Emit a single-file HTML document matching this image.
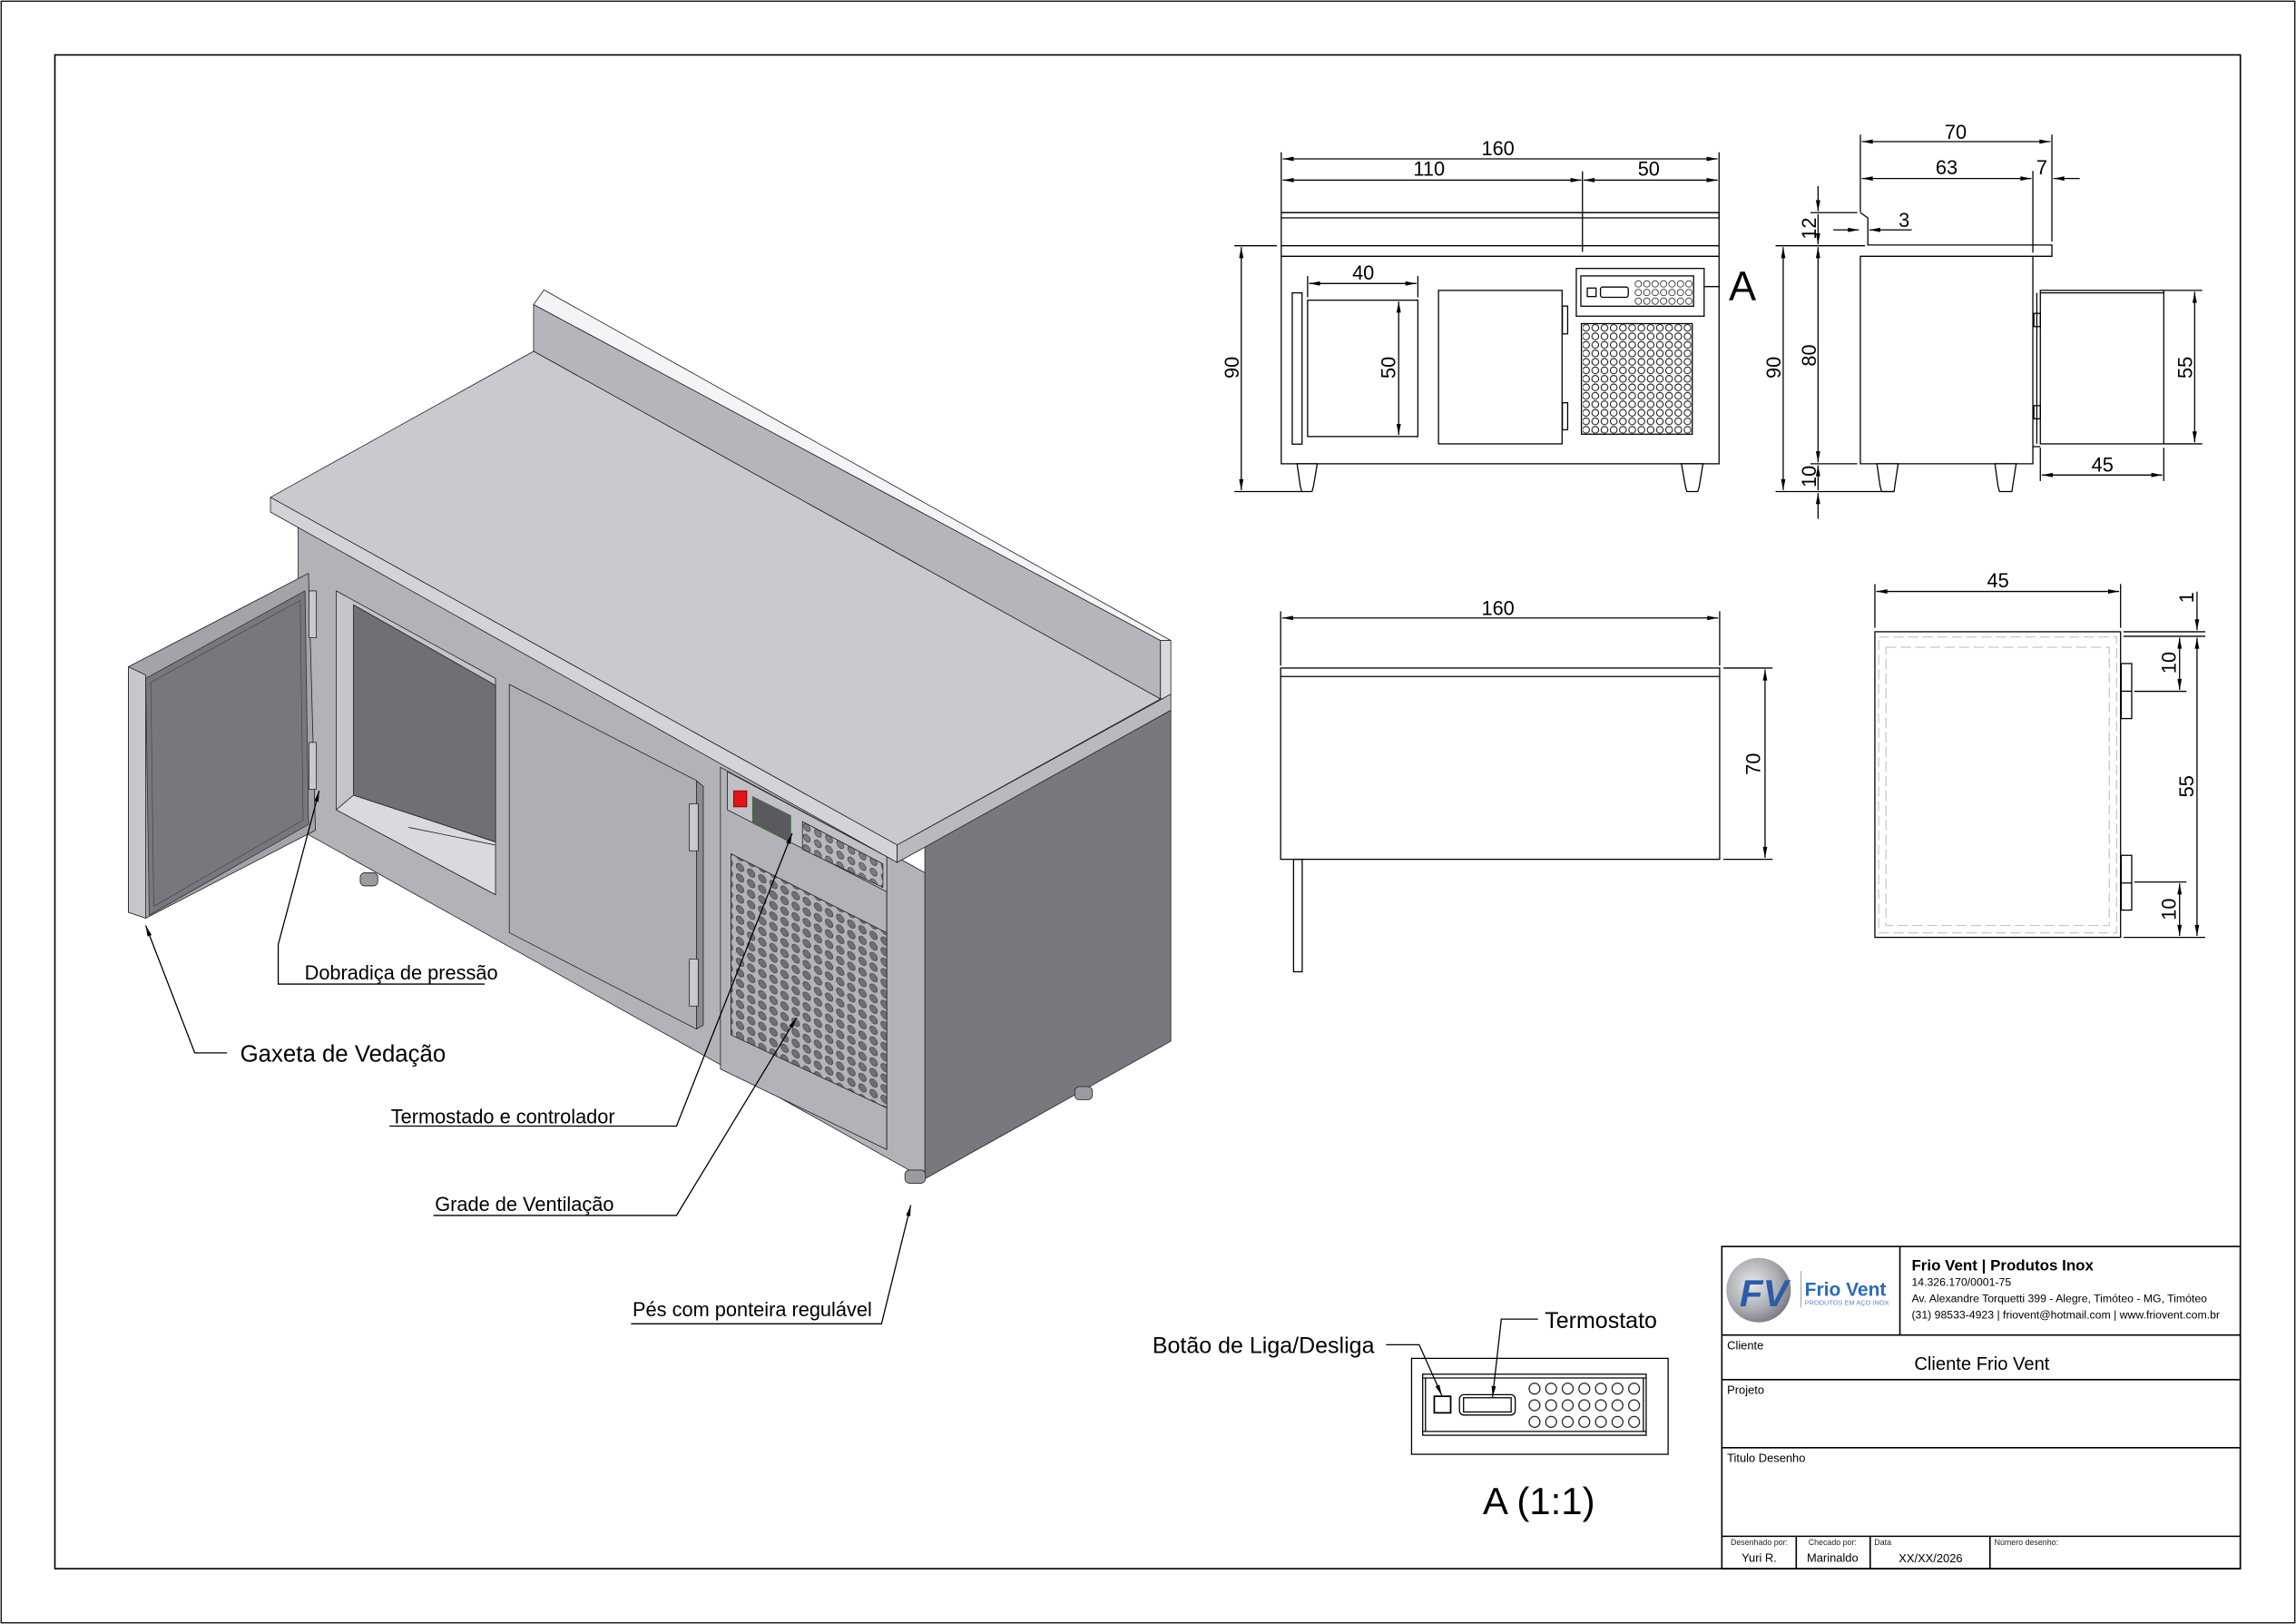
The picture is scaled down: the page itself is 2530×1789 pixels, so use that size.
<!DOCTYPE html>
<html><head><meta charset="utf-8"><style>
html,body{margin:0;padding:0;background:#fff}
svg{display:block}
text{font-family:"Liberation Sans",Arial,sans-serif}
</style></head><body>
<svg width="2530" height="1789" viewBox="0 0 1568 1109" preserveAspectRatio="none" xmlns="http://www.w3.org/2000/svg">
<defs>
<marker id="a" viewBox="0 0 10 4" refX="10" refY="2" markerWidth="8" markerHeight="3" orient="auto-start-reverse" markerUnits="userSpaceOnUse"><path d="M0,0L10,2L0,4z" fill="#000"/></marker>
<pattern id="g1" x="1080" y="221" width="6.3" height="5.8" patternUnits="userSpaceOnUse"><circle cx="3.15" cy="2.9" r="2.3" fill="none" stroke="#000" stroke-width="0.6"/></pattern>
<pattern id="g2" x="1116" y="190.9" width="5.75" height="5.9" patternUnits="userSpaceOnUse"><circle cx="2.875" cy="2.95" r="2.2" fill="none" stroke="#000" stroke-width="0.45"/></pattern>
<pattern id="g3" x="1042.3" y="942.6" width="11.33" height="11.35" patternUnits="userSpaceOnUse"><circle cx="5.67" cy="5.67" r="3.7" fill="none" stroke="#000" stroke-width="0.7"/></pattern>
<pattern id="gi" x="0" y="0" width="7.6" height="7.2" patternUnits="userSpaceOnUse" patternTransform="skewY(27)"><rect width="7.6" height="7.2" fill="#b3b3ba"/><circle cx="3.8" cy="3.6" r="2.6" fill="#6f6f76" stroke="#3a3a3e" stroke-width="0.4"/></pattern>
<pattern id="gs" x="0" y="0" width="7.6" height="7.2" patternUnits="userSpaceOnUse" patternTransform="skewY(27)"><rect width="7.6" height="7.2" fill="#b8b8be"/><circle cx="3.8" cy="3.6" r="2.4" fill="#7a7a80" stroke="#3a3a3e" stroke-width="0.4"/></pattern>
<radialGradient id="lg" cx="0.4" cy="0.4" r="0.7"><stop offset="0" stop-color="#e8e8ea"/><stop offset="0.6" stop-color="#a9abb0"/><stop offset="1" stop-color="#6d6f74"/></radialGradient>
</defs>

<rect x="0.8" y="0.8" width="1566.4" height="1107.4" fill="none" stroke="#000" stroke-width="0.8"/>
<rect x="37.5" y="37.5" width="1492.5" height="1033.7" fill="none" stroke="#000" stroke-width="1"/>

<g stroke="#222" stroke-width="0.5" stroke-linejoin="round">
<polygon points="364.4,208 371.5,198 799.6,437.4 792.5,437.4" fill="#f4f4f6"/>
<polygon points="364.4,208 792.5,437.4 792.5,477.3 364.4,239.9" fill="#b5b5bc"/>
<polygon points="792.5,437.4 799.6,437.4 799.6,476 792.5,477.3" fill="#d8d8dc"/>
<polygon points="631.6,578 799.6,485 799.6,711 631.6,805" fill="#79787e"/>
<polygon points="203.6,357 631.6,596 631.6,805 203.6,566" fill="#b2b2b9"/>
<polygon points="184.7,339.6 364.4,239.9 792.5,477.3 612.7,577" fill="#c9c9d0"/>
<polygon points="184.7,339.6 612.7,577 612.7,589 184.7,349.6" fill="#d3d3d9"/>
<polygon points="612.7,577 799.6,474 799.6,485 612.7,589" fill="#b9b9c0"/>
<polygon points="229.6,403.5 338.4,463.3 338.4,611 229.6,553" fill="#c4c4ca"/>
<polygon points="241.4,413 338.4,468 338.4,575 241.4,543" fill="#6f6f76"/>
<polygon points="229.6,553 241.4,543 338.4,575 338.4,611" fill="#d9d9de"/>
<line x1="279" y1="565" x2="338" y2="577"/>
<polygon points="347.8,467.3 475.6,533 475.6,702.7 347.8,636.9" fill="#aeaeb5"/>
<polygon points="475.6,533 480.3,537 480.3,700 475.6,702.7" fill="#8b8b92"/>
<rect x="470.8" y="549" width="6" height="32" fill="#c9c9ce"/>
<rect x="470.8" y="655" width="6" height="32" fill="#c9c9ce"/>
<polygon points="492,524 605.6,585 605.6,785 492,730" fill="#b2b2b9"/>
<line x1="605.6" y1="585" x2="605.6" y2="785"/>
<polygon points="496.8,527 605.6,585 605.6,609 496.8,553" fill="#c0c0c6"/>
<polygon points="548,561 603,590 603,606 548,580" fill="url(#gs)"/>
<rect x="501" y="540" width="9" height="11" fill="#e01515" stroke="#700"/>
<polygon points="514,544 540,557 540,575 514,562" fill="#5a5a5e" stroke="#2f6e2f"/>
<polygon points="499.2,583 605.6,637 605.6,756.6 499.2,706.7" fill="url(#gi)"/>
<rect x="246" y="596" width="12" height="9" rx="3" fill="#9a9aa0"/>
<rect x="618" y="799" width="14" height="9" rx="3" fill="#9a9aa0"/>
<rect x="734" y="742" width="12" height="9" rx="3" fill="#9a9aa0"/>
<polygon points="87.7,455.3 210.7,391.5 215.4,567 99.5,627 87.7,623" fill="#a3a3aa"/>
<polygon points="87.7,455.3 99.5,461 99.5,627 87.7,623" fill="#c6c6cc"/>
<polygon points="99.5,463.3 208.3,403.5 210.7,563 101.9,625" fill="#77777e" stroke="#333"/>
<polygon points="103,466 205,410 207,560 105,619" fill="none" stroke="#444" stroke-width="0.4"/>
<rect x="211" y="403.5" width="5" height="32" fill="#c9c9ce"/>
<rect x="211" y="507" width="5" height="32" fill="#c9c9ce"/>
</g>

<g stroke="#000" stroke-width="0.8" fill="none">
<polyline points="155,719 133,719 99.5,632" marker-end="url(#a)"/>
<polyline points="331,672 190,672 190,645 218,540" marker-end="url(#a)"/>
<polyline points="266,769 462,769 541,569" marker-end="url(#a)"/>
<polyline points="296,830 462,830 544,695" marker-end="url(#a)"/>
<polyline points="431,904 602,904 622,823" marker-end="url(#a)"/>
</g>
<g font-size="13.5" fill="#000">
<text x="164" y="725" font-size="16">Gaxeta de Vedação</text>
<text x="208" y="669">Dobradiça de pressão</text>
<text x="267" y="767">Termostado e controlador</text>
<text x="297" y="827">Grade de Ventilação</text>
<text x="432" y="899">Pés com ponteira regulável</text>
</g>

<g stroke="#000" stroke-width="0.8" fill="none">
<line x1="875" y1="104" x2="875" y2="145"/><line x1="1174" y1="104" x2="1174" y2="150"/>
<line x1="876" y1="108.5" x2="1173" y2="108.5" marker-start="url(#a)" marker-end="url(#a)"/>
<line x1="876" y1="123" x2="1080" y2="123" marker-start="url(#a)" marker-end="url(#a)"/>
<line x1="1081.5" y1="123" x2="1173" y2="123" marker-start="url(#a)" marker-end="url(#a)"/>
<line x1="1080.7" y1="117" x2="1080.7" y2="172"/>
<line x1="875" y1="145.2" x2="1174" y2="145.2"/><line x1="875" y1="148.8" x2="1174" y2="148.8"/>
<line x1="875" y1="167.8" x2="1174" y2="167.8"/><line x1="875" y1="175" x2="1174" y2="175"/>
<rect x="875" y="145.2" width="299" height="171.5"/>
<line x1="843" y1="167.8" x2="872" y2="167.8"/><line x1="843" y1="335.7" x2="890" y2="335.7"/>
<line x1="847.7" y1="168.8" x2="847.7" y2="334.7" marker-start="url(#a)" marker-end="url(#a)"/>
<polygon points="885.8,316.7 899.6,316.7 897,332 896,335.7 889,335.7 888,332"/>
<polygon points="1148.3,316.7 1163,316.7 1160.5,332 1159.5,335.7 1152,335.7 1151,332"/>
<rect x="882.5" y="200" width="6.7" height="103.3"/>
<rect x="893" y="205" width="75.3" height="93.1"/>
<line x1="893" y1="188.4" x2="893" y2="203"/><line x1="968.3" y1="188.4" x2="968.3" y2="203"/>
<line x1="894" y1="193.6" x2="967.3" y2="193.6" marker-start="url(#a)" marker-end="url(#a)"/>
<line x1="955.2" y1="206" x2="955.2" y2="297" marker-start="url(#a)" marker-end="url(#a)"/>
<rect x="982.4" y="198.3" width="84.4" height="104.8"/>
<rect x="1067" y="209" width="3.6" height="19"/><rect x="1067" y="275" width="3.6" height="18.5"/>
<rect x="1076.5" y="183.3" width="87.3" height="32.6"/>
<rect x="1079.6" y="188.4" width="77" height="20.7"/>
<rect x="1084" y="196.7" width="6" height="5.8"/>
<rect x="1093" y="196" width="19" height="7" rx="1.5"/>
<line x1="1163.8" y1="195.7" x2="1174.5" y2="195.7"/>
<rect x="1080" y="221" width="75.7" height="75.5"/>
</g>
<rect x="1116" y="190.9" width="40.2" height="17.7" fill="url(#g2)"/>
<rect x="1081" y="221.5" width="74" height="74.5" fill="url(#g1)"/>
<g font-size="13.5" fill="#000" text-anchor="middle">
<text x="1023" y="106">160</text>
<text x="976" y="120">110</text>
<text x="1126" y="120">50</text>
<text x="931" y="191">40</text>
<text x="1190" y="205" font-size="28">A</text>
<text transform="translate(846,251) rotate(-90)">90</text>
<text transform="translate(953,251) rotate(-90)">50</text>
</g>

<g stroke="#000" stroke-width="0.8" fill="none">
<line x1="1270.5" y1="91.9" x2="1270.5" y2="145"/>
<line x1="1401.3" y1="91.9" x2="1401.3" y2="165"/>
<line x1="1271.5" y1="96.7" x2="1400.3" y2="96.7" marker-start="url(#a)" marker-end="url(#a)"/>
<line x1="1271.5" y1="121.9" x2="1387.3" y2="121.9" marker-start="url(#a)" marker-end="url(#a)"/>
<line x1="1388.3" y1="116.7" x2="1388.3" y2="172.5"/>
<line x1="1420.3" y1="121.9" x2="1402.3" y2="121.9" marker-end="url(#a)"/>
<polyline points="1270.5,145.2 1275.6,148.8 1275.6,167.3 1401.3,167.3 1401.3,175 1270.5,175 1270.5,316.7 1388.3,316.7 1388.3,175"/>
<polygon points="1281.8,316.7 1296.3,316.7 1294,332 1293.5,335.7 1285,335.7 1284,332"/>
<polygon points="1362.4,316.7 1376.9,316.7 1374.5,332 1374,335.7 1365.5,335.7 1364.5,332"/>
<rect x="1393.4" y="198.3" width="84.3" height="104.8"/>
<line x1="1393.4" y1="200" x2="1477.7" y2="200"/>
<line x1="1388.3" y1="305" x2="1393.4" y2="305"/>
<line x1="1391" y1="200" x2="1391" y2="303"/>
<rect x="1389" y="214" width="4.4" height="9"/><rect x="1389" y="277" width="4.4" height="9"/>
<line x1="1477.7" y1="198.3" x2="1504" y2="198.3"/><line x1="1477.7" y1="303.1" x2="1504" y2="303.1"/>
<line x1="1498.8" y1="199.3" x2="1498.8" y2="302.1" marker-start="url(#a)" marker-end="url(#a)"/>
<line x1="1393.4" y1="305.8" x2="1393.4" y2="328.5"/><line x1="1477.7" y1="305.8" x2="1477.7" y2="328.5"/>
<line x1="1394.4" y1="324.4" x2="1476.7" y2="324.4" marker-start="url(#a)" marker-end="url(#a)"/>
<line x1="1236.4" y1="145.2" x2="1268.4" y2="145.2"/>
<line x1="1212.6" y1="167.8" x2="1273.6" y2="167.8"/>
<line x1="1236.4" y1="316.7" x2="1268.4" y2="316.7"/>
<line x1="1212.6" y1="335.7" x2="1293" y2="335.7"/>
<line x1="1241.6" y1="127" x2="1241.6" y2="144.2" marker-end="url(#a)"/>
<line x1="1241.6" y1="146.2" x2="1241.6" y2="166.8" marker-end="url(#a)"/>
<line x1="1241.6" y1="168.8" x2="1241.6" y2="315.7" marker-start="url(#a)" marker-end="url(#a)"/>
<line x1="1241.6" y1="317.7" x2="1241.6" y2="334.7" marker-start="url(#a)"/>
<line x1="1241.6" y1="336.7" x2="1241.6" y2="354.3" marker-start="url(#a)"/>
<line x1="1217.8" y1="168.8" x2="1217.8" y2="334.7" marker-start="url(#a)" marker-end="url(#a)"/>
<line x1="1252" y1="157" x2="1269.5" y2="157" marker-end="url(#a)"/>
<line x1="1305.6" y1="157" x2="1276.6" y2="157" marker-end="url(#a)"/>
</g>
<g font-size="13.5" fill="#000" text-anchor="middle">
<text x="1335.6" y="95">70</text>
<text x="1329.4" y="119">63</text>
<text x="1394.4" y="119">7</text>
<text x="1300.4" y="155">3</text>
<text x="1435.8" y="322">45</text>
<text transform="translate(1497,251) rotate(-90)">55</text>
<text transform="translate(1216,251) rotate(-90)">90</text>
<text transform="translate(1240,242.7) rotate(-90)">80</text>
<text transform="translate(1240,156) rotate(-90)">12</text>
<text transform="translate(1240,325.4) rotate(-90)">10</text>
</g>

<g stroke="#000" stroke-width="0.8" fill="none">
<line x1="874.6" y1="417.4" x2="874.6" y2="454.5"/><line x1="1174.4" y1="417.4" x2="1174.4" y2="454.5"/>
<line x1="875.6" y1="422" x2="1173.4" y2="422" marker-start="url(#a)" marker-end="url(#a)"/>
<rect x="874.6" y="456.2" width="299.8" height="130.6"/>
<line x1="874.6" y1="462" x2="1174.4" y2="462"/>
<rect x="883.4" y="586.8" width="5.9" height="76.8"/>
<line x1="1177" y1="456.2" x2="1210.5" y2="456.2"/><line x1="1177" y1="586.8" x2="1210.5" y2="586.8"/>
<line x1="1205.4" y1="457.2" x2="1205.4" y2="585.8" marker-start="url(#a)" marker-end="url(#a)"/>
</g>
<g font-size="13.5" fill="#000" text-anchor="middle">
<text x="1023" y="420">160</text>
<text transform="translate(1202,521.7) rotate(-90)">70</text>
</g>

<g stroke="#000" stroke-width="0.8" fill="none">
<line x1="1280.4" y1="398.8" x2="1280.4" y2="428.7"/><line x1="1448.2" y1="398.8" x2="1448.2" y2="428.7"/>
<line x1="1281.4" y1="403.9" x2="1447.2" y2="403.9" marker-start="url(#a)" marker-end="url(#a)"/>
<rect x="1280.4" y="431.4" width="167.8" height="208.7"/>
<rect x="1448.6" y="453.1" width="7.2" height="37.6"/><rect x="1448.6" y="584.1" width="7.2" height="37.4"/>
<line x1="1448.6" y1="472" x2="1455.8" y2="472"/><line x1="1448.6" y1="603" x2="1455.8" y2="603"/>
<line x1="1450.2" y1="431.4" x2="1506" y2="431.4"/><line x1="1450.2" y1="434.5" x2="1506" y2="434.5"/>
<line x1="1450.2" y1="640.1" x2="1506" y2="640.1"/>
<line x1="1457.5" y1="472.1" x2="1493.2" y2="472.1"/><line x1="1457.5" y1="602.3" x2="1493.2" y2="602.3"/>
<line x1="1500.4" y1="404" x2="1500.4" y2="430.4" marker-end="url(#a)"/>
<line x1="1500.4" y1="435.5" x2="1500.4" y2="639.1" marker-start="url(#a)" marker-end="url(#a)"/>
<line x1="1488.5" y1="435.5" x2="1488.5" y2="471.1" marker-start="url(#a)" marker-end="url(#a)"/>
<line x1="1488.5" y1="603.3" x2="1488.5" y2="639.1" marker-start="url(#a)" marker-end="url(#a)"/>
</g>
<g fill="none" stroke="#c8c8c8" stroke-width="0.8" stroke-dasharray="7,3">
<rect x="1283" y="435" width="162.5" height="202"/>
<rect x="1288" y="442" width="152.5" height="190"/>
</g>
<g font-size="13.5" fill="#000" text-anchor="middle">
<text x="1364.5" y="401">45</text>
<text transform="translate(1498,408) rotate(-90)">1</text>
<text transform="translate(1486,452.5) rotate(-90)">10</text>
<text transform="translate(1498,537) rotate(-90)">55</text>
<text transform="translate(1486,620.9) rotate(-90)">10</text>
</g>

<g stroke="#000" stroke-width="0.8" fill="none">
<rect x="964" y="927.6" width="175.2" height="65.5"/>
<rect x="971.6" y="938.4" width="152.6" height="41.7"/>
<line x1="972" y1="941" x2="1124" y2="941"/><line x1="972" y1="977.5" x2="1124" y2="977.5"/>
<line x1="973.5" y1="941" x2="973.5" y2="977.5"/><line x1="1122.3" y1="941" x2="1122.3" y2="977.5"/>
<rect x="979.5" y="953.5" width="11.2" height="11.3" stroke-width="1.1"/>
<rect x="996.7" y="952.4" width="38.1" height="13.9" rx="3"/>
<rect x="999.5" y="954.5" width="32.5" height="9.7"/>
<polyline points="1050.3,900.8 1025.3,900.8 1019.3,954" marker-end="url(#a)"/>
<polyline points="946.6,918.3 969.2,918.3 984.7,953" marker-end="url(#a)"/>
</g>
<rect x="1042.3" y="942.6" width="80" height="34" fill="url(#g3)"/>
<g fill="#000">
<text x="1055" y="907" font-size="15.5">Termostato</text>
<text x="787" y="924" font-size="15.5">Botão de Liga/Desliga</text>
<text x="1051" y="1034" font-size="26" text-anchor="middle">A (1:1)</text>
</g>

<g stroke="#000" stroke-width="1" fill="none">
<rect x="1175.9" y="851.2" width="354.1" height="220"/>
<line x1="1297.5" y1="851.2" x2="1297.5" y2="911.7"/>
<line x1="1175.9" y1="911.7" x2="1530" y2="911.7"/>
<line x1="1175.9" y1="942.1" x2="1530" y2="942.1"/>
<line x1="1175.9" y1="988.6" x2="1530" y2="988.6"/>
<line x1="1175.9" y1="1049.1" x2="1530" y2="1049.1"/>
<line x1="1226.7" y1="1049.1" x2="1226.7" y2="1071.2"/>
<line x1="1277.2" y1="1049.1" x2="1277.2" y2="1071.2"/>
<line x1="1359" y1="1049.1" x2="1359" y2="1071.2"/>
</g>
<circle cx="1201" cy="881" r="22" fill="url(#lg)"/>
<text x="1188" y="892" font-size="26" font-weight="bold" font-style="italic" fill="#2a5caa">FV</text>
<line x1="1230" y1="868" x2="1230" y2="893" stroke="#999" stroke-width="0.6"/>
<text x="1232.5" y="885" font-size="13" font-weight="bold" fill="#2a6bbd">Frio Vent</text>
<text x="1232.5" y="891" font-size="4.6" fill="#5a8ad0">PRODUTOS EM AÇO INOX</text>
<g fill="#000">
<text x="1305.5" y="867.5" font-size="10.5" font-weight="bold">Frio Vent | Produtos Inox</text>
<text x="1305.5" y="878" font-size="7.6">14.326.170/0001-75</text>
<text x="1305.5" y="889.3" font-size="7.6">Av. Alexandre Torquetti 399 - Alegre, Timóteo - MG, Timóteo</text>
<text x="1305.5" y="900.3" font-size="7.6">(31) 98533-4923 | friovent@hotmail.com | www.friovent.com.br</text>
<text x="1179.5" y="921.5" font-size="8">Cliente</text>
<text x="1353.5" y="935.5" font-size="12.5" text-anchor="middle">Cliente Frio Vent</text>
<text x="1179.5" y="952" font-size="8">Projeto</text>
<text x="1179.5" y="998.5" font-size="8">Titulo Desenho</text>
<g font-size="5.5" fill="#222">
<text x="1201.4" y="1055" text-anchor="middle">Desenhado por:</text>
<text x="1251.5" y="1055" text-anchor="middle">Checado por:</text>
<text x="1280" y="1055">Data</text>
<text x="1362" y="1055">Número desenho:</text>
</g>
<g font-size="8" text-anchor="middle">
<text x="1201.4" y="1066.5">Yuri R.</text>
<text x="1251.5" y="1066.5">Marinaldo</text>
<text x="1318.5" y="1067">XX/XX/2026</text>
</g>
</g>
</svg>
</body></html>
